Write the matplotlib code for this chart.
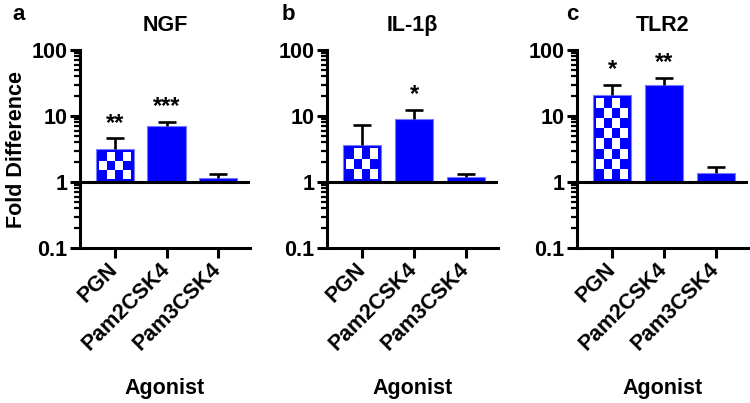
import numpy as np
import matplotlib
matplotlib.use('Agg')
import matplotlib.pyplot as plt
from matplotlib.colors import ListedColormap
from matplotlib.ticker import FixedLocator, FixedFormatter, LogLocator, NullFormatter

plt.rcParams['font.family'] = ['Liberation Sans', 'DejaVu Sans']
plt.rcParams['font.weight'] = 'bold'

agonists = ['PGN', 'Pam2CSK4', 'Pam3CSK4']
panel_letters = ['a', 'b', 'c']
genes = ['NGF', 'IL-1β', 'TLR2']

# mean fold difference and top of error bar, per gene
means = {
    'NGF': [3.2, 7.1, 1.15],
    'IL-1β': [3.6, 9.0, 1.18],
    'TLR2': [21.0, 29.0, 1.35],
}
err_tops = {
    'NGF': [4.6, 8.2, 1.32],
    'IL-1β': [7.3, 12.5, 1.33],
    'TLR2': [30.0, 38.0, 1.7],
}
stars = {
    'NGF': ['**', '***', ''],
    'IL-1β': ['', '*', ''],
    'TLR2': ['*', '**', ''],
}

ytick_vals = [0.1, 1, 10, 100]
ytick_labels = ['0.1', '1', '10', '100']

BLUE = '#0000ff'
W, H = 750, 403
fig = plt.figure(figsize=(7.5, 4.03), dpi=100)

# axes boxes in pixels: left, right
boxes = [(80, 250), (327, 498), (577, 748)]
top_px, bot_px = 50, 248

def checker(ax, x, width, top):
    # checkerboard fill inside the bar, roughly square cells in pixels
    pad_x = 0.06
    pad_y = 10 ** 0.045
    ncol = 4
    nrow = max(1, int(round(np.log10(top / pad_y ** 2) * 66 / 10.5)))
    xe = np.linspace(x - width / 2 + pad_x, x + width / 2 - pad_x, ncol + 1)
    ye = np.geomspace(pad_y, top / pad_y, nrow + 1)
    c = (np.add.outer(np.arange(nrow), np.arange(ncol)) % 2)
    ax.pcolormesh(xe, ye, c, cmap=ListedColormap([BLUE, 'white']),
                  shading='flat', zorder=2.5)

for i, gene in enumerate(genes):
    l, r = boxes[i]
    ax = fig.add_axes([l / W, 1 - bot_px / H, (r - l) / W, (bot_px - top_px) / H])
    ax.set_yscale('log')
    x = np.arange(len(agonists))
    vals = np.array(means[gene])
    tops = np.array(err_tops[gene])
    width = 0.74
    ax.bar(x, vals - 1, bottom=1, width=width, color=BLUE,
           edgecolor='#7a7aff', linewidth=0.8, zorder=2)
    checker(ax, x[0], width, vals[0])

    # upper error bars only
    ax.vlines(x, vals, tops, color='black', lw=1.9, zorder=3)
    ax.plot(x, tops, linestyle='none', marker='_', markersize=13,
            markeredgewidth=1.9, color='black', zorder=3)
    for xi, t, s in zip(x, tops, stars[gene]):
        if s:
            ax.text(xi, t * 1.12, s, ha='center', va='bottom', fontsize=17,
                    fontweight='bold')

    ax.axhline(1, color='black', lw=2.2, zorder=4)
    ax.set_ylim(0.1, 100)
    ax.set_xlim(-0.68, 2.62)

    for side in ['top', 'right']:
        ax.spines[side].set_visible(False)
    for side in ['left', 'bottom']:
        ax.spines[side].set_linewidth(2.2)

    ax.yaxis.set_major_locator(FixedLocator(ytick_vals))
    ax.yaxis.set_major_formatter(FixedFormatter(ytick_labels))
    ax.yaxis.set_minor_locator(LogLocator(base=10, subs=np.arange(2, 10)))
    ax.yaxis.set_minor_formatter(NullFormatter())
    ax.tick_params(axis='y', which='major', length=7, width=2.2, labelsize=15.5, pad=2)
    ax.tick_params(axis='y', which='minor', length=4, width=1.6)
    ax.tick_params(axis='x', which='major', length=7, width=2.2, labelsize=15.5, pad=6)

    ax.set_xticks(x)
    ax.set_xticklabels(agonists, rotation=45, ha='right', va='center',
                       rotation_mode='anchor', fontweight='bold')
    for lab in ax.get_yticklabels():
        lab.set_fontweight('bold')

    ax.set_title(gene, fontsize=15.5, fontweight='bold', pad=14)
    ax.set_xlabel('Agonist', fontsize=15.5, fontweight='bold', labelpad=17)
    if i == 0:
        ax.set_ylabel('Fold Difference', fontsize=15.5, fontweight='bold', labelpad=3)

letter_x = [12, 282, 566]
for lx, letter in zip(letter_x, panel_letters):
    fig.text(lx / W, 1 - 15 / H, letter, fontsize=16, fontweight='bold',
             ha='left', va='center')

fig.savefig('out.png', dpi=100)
